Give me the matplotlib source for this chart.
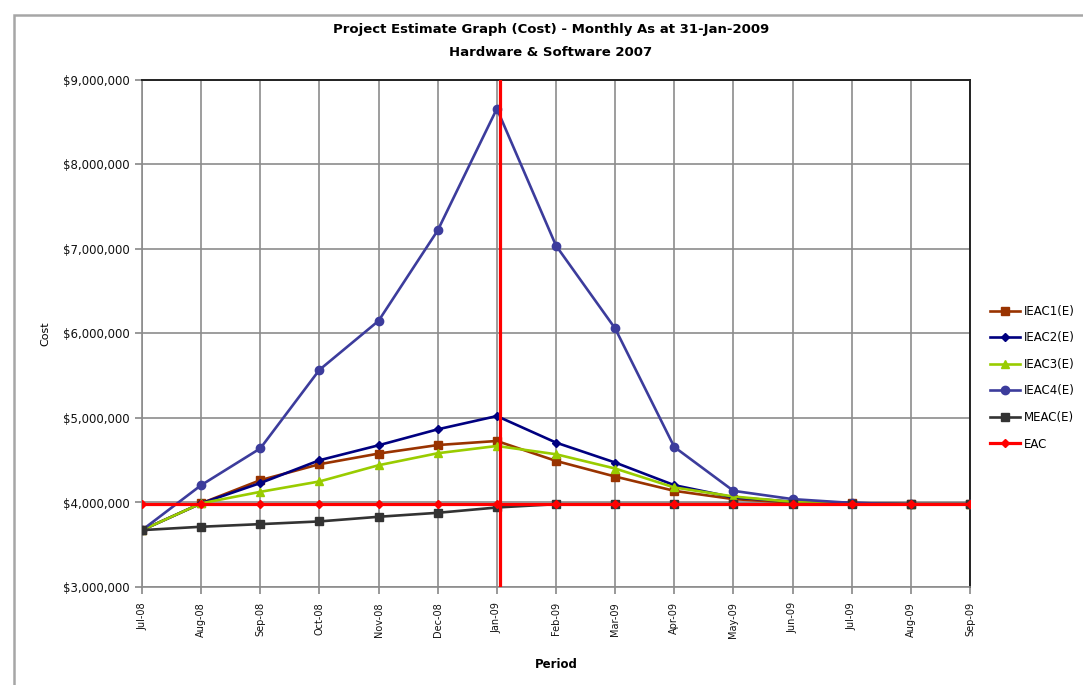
import matplotlib.pyplot as plt
from matplotlib.patches import Rectangle
from matplotlib.ticker import FuncFormatter

plt.rcParams['font.family'] = ['Liberation Sans Narrow', 'DejaVu Sans']

# Monthly periods and estimate series (in $)
periods = ["Jul-08", "Aug-08", "Sep-08", "Oct-08", "Nov-08", "Dec-08", "Jan-09",
           "Feb-09", "Mar-09", "Apr-09", "May-09", "Jun-09", "Jul-09", "Aug-09", "Sep-09"]

ieac1 = [3673000, 3990000, 4264000, 4453000, 4579000, 4680000, 4728000,
         4492000, 4307000, 4138000, 4040000, 4000000, 3990000, 3980000, 3980000]
ieac2 = [3673000, 3990000, 4230000, 4500000, 4677000, 4866000, 5023000,
         4709000, 4473000, 4205000, 4060000, 4010000, 3995000, 3980000, 3980000]
ieac3 = [3673000, 3990000, 4126000, 4249000, 4441000, 4583000, 4669000,
         4571000, 4402000, 4178000, 4071000, 4007000, 3990000, 3980000, 3980000]
ieac4 = [3673000, 4205000, 4640000, 5570000, 6150000, 7220000, 8660000,
         7040000, 6060000, 4657000, 4138000, 4040000, 3995000, 3980000, 3980000]
meac = [3673000, 3713000, 3744000, 3776000, 3831000, 3878000, 3941000,
        3980000, 3980000, 3980000, 3980000, 3980000, 3980000, 3980000, 3980000]
eac = [3980000] * len(periods)

as_at_month = "Jan-09"

x = list(range(len(periods)))

fig = plt.figure(figsize=(10.83, 6.85), dpi=100)
fig.patches.append(Rectangle((14 / 1083, -0.01), 1.02, 1 - 15 / 685 + 0.01,
                             transform=fig.transFigure, fill=False,
                             edgecolor='#a6a6a6', linewidth=1.8))

ax = fig.add_axes([142 / 1083, 1 - 587 / 685, (970 - 142) / 1083, (587 - 80) / 685])

series = [
    (ieac1, "IEAC1(E)", '#993300', 's', 6),
    (ieac2, "IEAC2(E)", '#000080', 'D', 4),
    (ieac3, "IEAC3(E)", '#99cc00', '^', 6),
    (ieac4, "IEAC4(E)", '#3c3c9c', 'o', 6),
    (meac, "MEAC(E)", '#333333', 's', 6),
]
handles = []
for vals, name, col, mk, ms in series:
    h, = ax.plot(x, vals, color=col, marker=mk, markersize=ms, linewidth=1.9,
                 label=name, zorder=3)
    handles.append(h)
h, = ax.plot(x, eac, color='#ff0000', marker='D', markersize=4, linewidth=2.3,
             label="EAC", zorder=4)
handles.append(h)

# as-at marker line
ax.axvline(periods.index(as_at_month) + 0.05, color='#ff0000', linewidth=2.3, zorder=5)

ax.set_xlim(0, len(periods) - 1)
ax.set_ylim(3000000, 9000000)
ax.set_xticks(x)
ax.set_xticklabels(periods, rotation=90, fontsize=7, color='#111111')
ax.set_yticks(range(3000000, 9000001, 1000000))
ax.yaxis.set_major_formatter(FuncFormatter(lambda v, p: "${:,.0f}".format(v)))
ax.tick_params(axis='y', labelsize=8.5, colors='#888888', labelcolor='#111111',
               length=5, width=1.2, pad=4)
ax.tick_params(axis='x', colors='#888888', labelcolor='#111111',
               length=5, width=1.2, pad=6)
ax.grid(True, color='#8c8c8c', linewidth=1.2)
ax.set_axisbelow(True)
for side in ['left', 'bottom']:
    ax.spines[side].set_color('#8c8c8c')
    ax.spines[side].set_linewidth(1.2)
for side in ['top', 'right']:
    ax.spines[side].set_color('#222222')
    ax.spines[side].set_linewidth(1.4)

ax.set_xlabel("Period", fontsize=8.5, fontweight='bold', labelpad=14)
ax.set_ylabel("Cost", fontsize=8, labelpad=9)

fig.text(551 / 1083, 1 - 30 / 685, "Project Estimate Graph (Cost) - Monthly As at 31-Jan-2009",
         ha='center', va='center', fontsize=9.5, fontweight='bold')
fig.text(551 / 1083, 1 - 52 / 685, "Hardware & Software 2007",
         ha='center', va='center', fontsize=9.5, fontweight='bold')

fig.legend(handles=handles, loc='upper left', bbox_to_anchor=(985 / 1083, 1 - 300 / 685),
           frameon=False, fontsize=8.5, handlelength=2.6, handletextpad=0.3,
           labelspacing=1.15, borderaxespad=0)

fig.savefig("out.png", dpi=100)
